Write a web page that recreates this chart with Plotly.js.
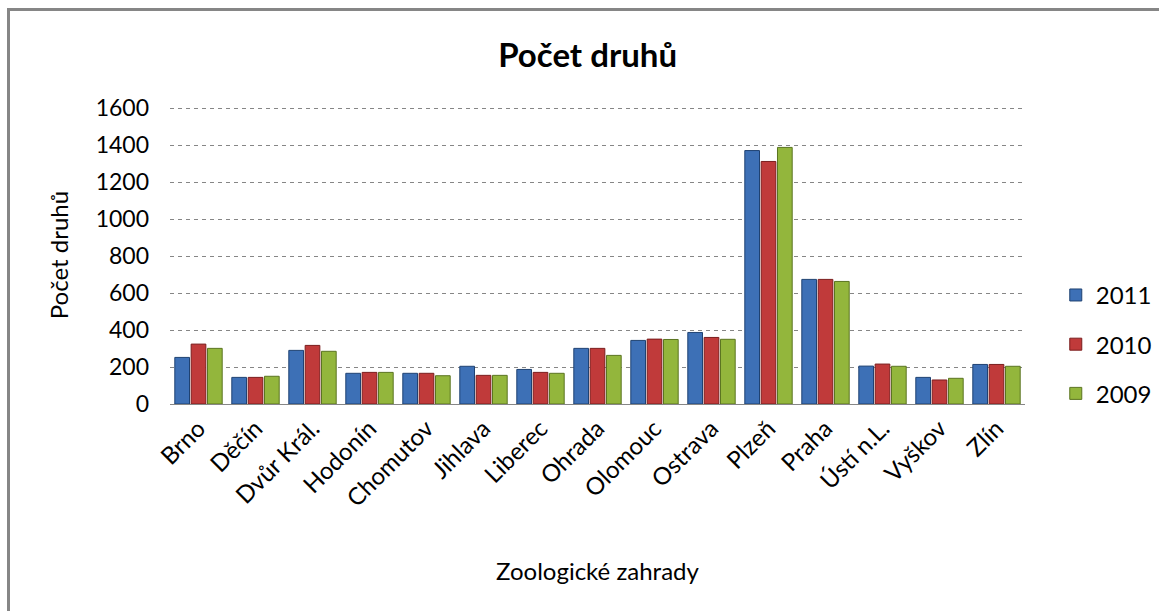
<!DOCTYPE html>
<html>
<head>
<meta charset="utf-8">
<script src="https://cdn.plot.ly/plotly-3.0.1.min.js"></script>
<style>
  html, body { margin: 0; padding: 0; background: #ffffff; }
  #wrap { position: relative; width: 1159px; height: 611px; overflow: hidden; }
  #chart { position: absolute; left: 0; top: 0; width: 1159px; height: 611px; }
  #frame { position: absolute; left: 7px; top: 8px; width: 1200px; height: 700px;
           border-left: 3px solid #868686; border-top: 3px solid #868686; pointer-events: none; }
</style>
</head>
<body>
<div id="wrap">
  <div id="chart"></div>
  <div id="frame"></div>
</div>
<script>
const categories = ["Brno", "Děčín", "Dvůr Král.", "Hodonín", "Chomutov", "Jihlava", "Liberec",
                    "Ohrada", "Olomouc", "Ostrava", "Plzeň", "Praha", "Ústí n.L.", "Vyškov", "Zlín"];
const values2011 = [252, 144, 290, 166, 166, 204, 187, 301, 344, 387, 1371, 674, 205, 144, 214];
const values2010 = [324, 144, 317, 171, 166, 155, 171, 301, 351, 360, 1312, 674, 216, 130, 214];
const values2009 = [301, 150, 285, 171, 153, 155, 166, 263, 349, 350, 1388, 663, 204, 139, 204];
const seriesNames = ["2011", "2010", "2009"];
const yTicks = [0, 200, 400, 600, 800, 1000, 1200, 1400, 1600];

const FONT = "Lato, 'Open Sans', sans-serif";
const fills = ["#3d70b6", "#c03a3a", "#93b63c"];
const edges = ["#1f4272", "#7a1d1d", "#5a7420"];
const seriesValues = [values2011, values2010, values2009];

const traces = seriesNames.map((name, i) => ({
  type: "bar",
  name: name,
  x: categories,
  y: seriesValues[i],
  legendgroup: "g" + i,
  marker: { color: fills[i], line: { color: edges[i], width: 1 } },
  hoverinfo: "x+y+name"
}));

const layout = {
  width: 1159,
  height: 611,
  paper_bgcolor: "#ffffff",
  plot_bgcolor: "#ffffff",
  font: { family: FONT, color: "#000000", size: 20 },
  margin: { l: 170, r: 134, t: 106, b: 207, autoexpand: false },
  title: {
    text: "<b>Počet druhů</b>",
    font: { family: FONT, size: 33, color: "#000000" },
    x: 0.507, xref: "container", xanchor: "center",
    y: 0.91, yref: "container", yanchor: "middle"
  },
  barmode: "group",
  bargap: 0.14,
  bargroupgap: 0.1,
  xaxis: {
    type: "category",
    tickangle: -45,
    tickfont: { family: FONT, size: 24, color: "#000000" },
    showgrid: false,
    showline: true,
    linecolor: "#868686",
    linewidth: 1,
    ticks: "",
    automargin: false,
    title: { text: "Zoologické zahrady", font: { family: FONT, size: 24, color: "#000000" }, standoff: 52 }
  },
  yaxis: {
    range: [0, 1612],
    tickvals: yTicks,
    ticktext: yTicks.map(String),
    tickfont: { family: FONT, size: 23, color: "#000000" },
    showgrid: true,
    gridcolor: "#868686",
    griddash: "4px,4px",
    gridwidth: 1,
    zeroline: false,
    showline: false,
    ticks: "",
    ticklabelstandoff: 20,
    automargin: false,
    title: { text: "Počet druhů", font: { family: FONT, size: 24, color: "#000000" }, standoff: 20 }
  },
  showlegend: true,
  legend: {
    x: 1.036, xanchor: "left",
    y: 0.44, yanchor: "top",
    font: { family: FONT, size: 24, color: "#000000" },
    traceorder: "grouped",
    tracegroupgap: 15,
    itemwidth: 30,
    bgcolor: "rgba(0,0,0,0)"
  }
};

Plotly.newPlot("chart", traces, layout, { displayModeBar: false, responsive: false });
</script>
</body>
</html>
